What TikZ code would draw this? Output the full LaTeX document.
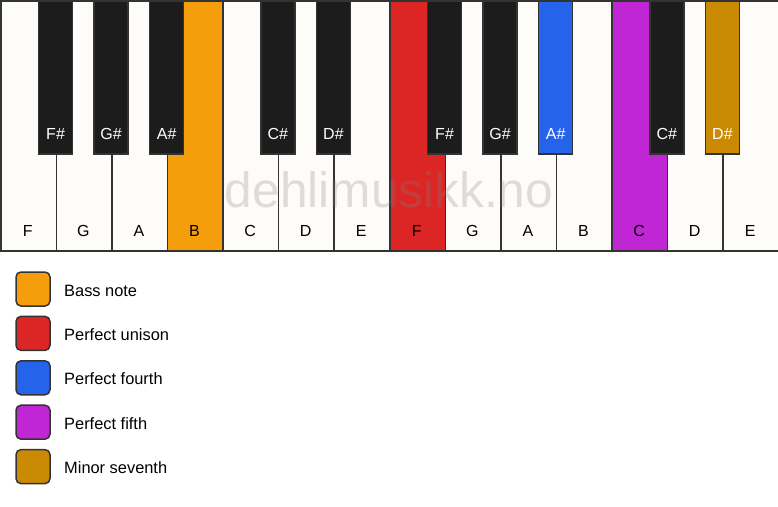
\documentclass[tikz,border=0pt]{standalone}
\usepackage{fontspec}
\setmainfont{Liberation Sans}
\usetikzlibrary{positioning}
\definecolor{keyWhite}{HTML}{FDFCF8}
\definecolor{keyBlack}{HTML}{1C1C1C}
\definecolor{keyLine}{HTML}{333333}
\definecolor{bassNote}{HTML}{F59E0B}
\definecolor{unisonNote}{HTML}{DC2626}
\definecolor{fourthNote}{HTML}{2563EB}
\definecolor{fifthNote}{HTML}{C026D3}
\definecolor{seventhNote}{HTML}{CA8A04}
\begin{document}
\begin{tikzpicture}
[x=1pt,y=-1pt,
  every node/.style={font=\fontsize{16}{19}\selectfont},
  whiteKeyDecorate/.style={shape=rectangle,draw=keyLine,line width=1.5pt,
    minimum width=55.571pt,minimum height=250pt,inner sep=0pt,anchor=north west},
  blackKeyDecorate/.style={shape=rectangle,draw=keyLine,line width=1.5pt,
    minimum width=34pt,minimum height=153pt,inner sep=0pt,anchor=north},
  boxDecorate/.style={shape=rectangle,rounded corners=5pt,draw=keyLine,
    line width=1.5pt,minimum size=34pt,inner sep=0pt}]
\useasboundingbox (0,0) rectangle (778,506);
%% white keys
\foreach \keyname/\i/\colour in {
  F/0/keyWhite, G/1/keyWhite, A/2/keyWhite, B/3/bassNote, C/4/keyWhite,
  D/5/keyWhite, E/6/keyWhite, F/7/unisonNote, G/8/keyWhite, A/9/keyWhite,
  B/10/keyWhite, C/11/fifthNote, D/12/keyWhite, E/13/keyWhite}
{
  \node (w\i) at (\i*55.571,0) [whiteKeyDecorate,fill=\colour] {};
  \node (wl\i) at (\i*55.571+27.786,236) [anchor=base] {\keyname};
}
%% black keys
\foreach \keyname/\i/\colour in {
  F\#/1/keyBlack, G\#/2/keyBlack, A\#/3/keyBlack, C\#/5/keyBlack,
  D\#/6/keyBlack, F\#/8/keyBlack, G\#/9/keyBlack, A\#/10/fourthNote,
  C\#/12/keyBlack, D\#/13/seventhNote}
{
  \node (b\i) at (\i*55.571,0) [blackKeyDecorate,fill=\colour] {};
  \node (bl\i) at (\i*55.571,139) [anchor=base,text=white] {\keyname};
}
%% watermark
\node (mark) at (389,207) [anchor=base,text=gray,text opacity=0.25,
  font=\fontsize{49.6}{50}\selectfont] {dehlimusikk.no};
%% legend
\foreach \boxname/\k/\colour/\legendtext in {
  bass/0/bassNote/Bass note, unison/1/unisonNote/Perfect unison,
  fourth/2/fourthNote/Perfect fourth, fifth/3/fifthNote/Perfect fifth,
  seventh/4/seventhNote/Minor seventh}
{
  \node (\boxname) at (33,289+\k*44.4) [boxDecorate,fill=\colour] {};
  \node (\boxname text) at (64,296+\k*44.4) [anchor=base west,inner sep=0pt,
    font=\fontsize{16.4}{19}\selectfont] {\legendtext};
}
\end{tikzpicture}
\end{document}
